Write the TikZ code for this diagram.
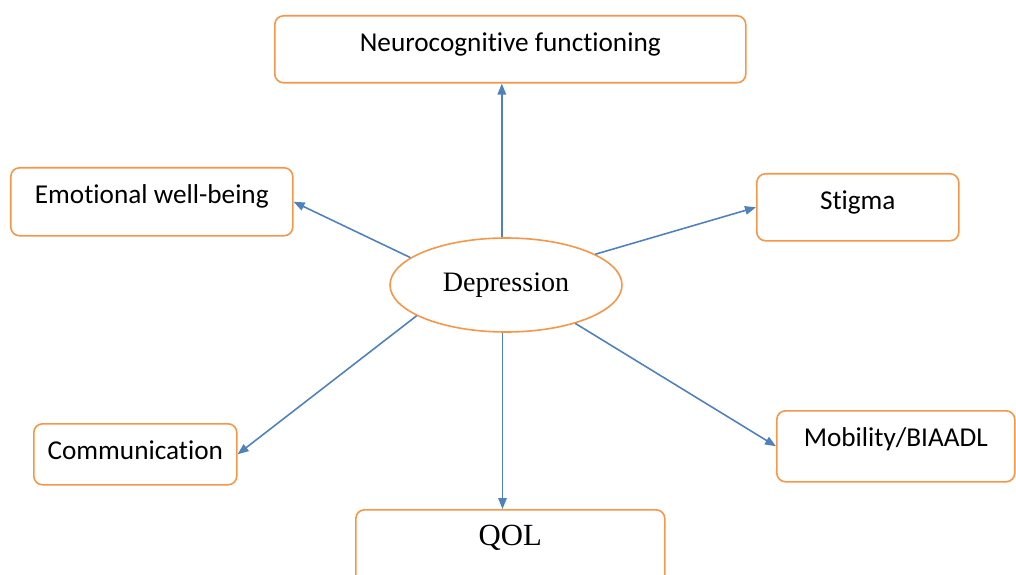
\documentclass[tikz,border=0pt]{standalone}
\usepackage{fontspec}
\setmainfont{Carlito}[Ligatures=NoCommon]
\newfontfamily\serifrm{Liberation Serif}
\usetikzlibrary{arrows.meta, shapes.geometric, calc}
\definecolor{corange}{HTML}{F79646}
\definecolor{cblue}{HTML}{4F81BD}
\tikzset{
  every picture/.style={line width=0.9pt},
  box/.style={draw=corange, fill=white, rounded corners=5pt, anchor=north west, inner xsep=4pt, inner ysep=0pt,
    text height=0.72cm, font=\fontsize{15.5}{18}\selectfont},
  hub/.style={ellipse, draw=corange, fill=white, minimum width=4.64cm, minimum height=1.88cm, inner sep=0pt,
    font=\serifrm\fontsize{16}{19}\selectfont},
  arrow/.style={-{Triangle[length=2.2mm, width=1.7mm]}, draw=cblue, line width=0.9pt},
}

\begin{document}
\begin{tikzpicture}
  \useasboundingbox (0,0) rectangle (20.32,11.48);
  \clip (0,0) rectangle (20.32,11.48);
  % centre
  \node[hub] (dep) at (10.12,5.78) {Depression};
  % outcomes
  \node[box, minimum width=9.42cm, text depth=0.62cm] (neuro) at (5.48,11.18) {Neurocognitive functioning};
  \node[box, minimum width=5.64cm, text depth=0.64cm] (emo) at (0.20,8.14) {Emotional well-being};
  \node[box, minimum width=4.04cm, text depth=0.62cm] (stigma) at (15.12,8.02) {Stigma};
  \node[box, minimum width=4.06cm, text depth=0.50cm] (comm) at (0.66,3.02) {Communication};
  \node[box, minimum width=4.76cm, text depth=0.70cm] (mob) at (15.52,3.28) {Mobility/BIAADL};
  \node[box, minimum width=6.18cm, text depth=0.80cm, font=\serifrm\fontsize{17.5}{20}\selectfont] (qol) at (7.10,1.30) {QOL};
  % links
  \draw[arrow] (dep.95) -- (dep.95 |- neuro.south);
  \draw[arrow] (dep.164) -- (emo.east);
  \draw[arrow] (dep.19) -- (stigma.west);
  \draw[arrow] (dep.199) -- (comm.east);
  \draw[arrow] (dep.331) -- (mob.west);
  \draw[arrow] ([xshift=-0.07cm]dep.south) -- ([xshift=-0.07cm]dep.south |- qol.north);
\end{tikzpicture}
\end{document}
